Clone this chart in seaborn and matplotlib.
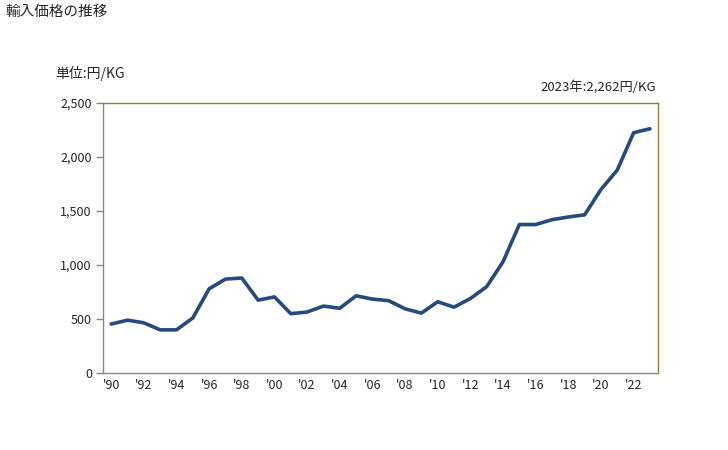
import numpy as np
import pandas as pd
import matplotlib
matplotlib.use('Agg')
import matplotlib.pyplot as plt
import seaborn as sns

sns.set_style('white')
plt.rcParams['font.family'] = ['Noto Sans CJK JP', 'DejaVu Sans']

# data (円/KG)
years = list(range(1990, 2024))
prices = [454, 490, 465, 400, 400, 510, 780, 870, 880, 675,
          705, 550, 565, 620, 600, 715, 685, 670, 595, 555,
          660, 610, 690, 800, 1030, 1375, 1375, 1420, 1445, 1465,
          1700, 1880, 2225, 2262]
tick_years = list(range(1990, 2024, 2))
tick_labels = ["'%02d" % (y % 100) for y in tick_years]

df = pd.DataFrame({'year': years, 'price': prices})

fig = plt.figure(figsize=(7.28, 4.5), dpi=100)
ax = fig.add_axes([0.1415, 0.171, 0.7625, 0.6])

sns.lineplot(data=df, x='year', y='price', ax=ax, color='#284a78', linewidth=2.6)

ax.set_xlim(1989.5, 2023.5)
ax.set_ylim(0, 2500)
ax.set_yticks([0, 500, 1000, 1500, 2000, 2500])
ax.set_yticklabels(['0', '500', '1,000', '1,500', '2,000', '2,500'])
ax.set_xticks(tick_years)
ax.set_xticklabels(tick_labels)
ax.set_xlabel('')
ax.set_ylabel('')

for s in ['top', 'right']:
    ax.spines[s].set_color('#8c8040')
    ax.spines[s].set_linewidth(1.0)
for s in ['left', 'bottom']:
    ax.spines[s].set_color('#888888')
    ax.spines[s].set_linewidth(1.0)

ax.tick_params(axis='y', which='both', left=True, length=5, width=1,
               color='#888888', labelsize=9, pad=3)
ax.tick_params(axis='x', which='both', bottom=False, labelsize=9, pad=1)

fig.text(5 / 728, 1 - 12 / 450, '輸入価格の推移', fontsize=10.5, va='center', ha='left')
fig.text(55 / 728, 1 - 73 / 450, '単位:円/KG', fontsize=10, va='center', ha='left')
fig.text(656 / 728, 1 - 87 / 450, '2023年:2,262円/KG', fontsize=9.5, va='center', ha='right')

fig.savefig('out.png', dpi=100)
